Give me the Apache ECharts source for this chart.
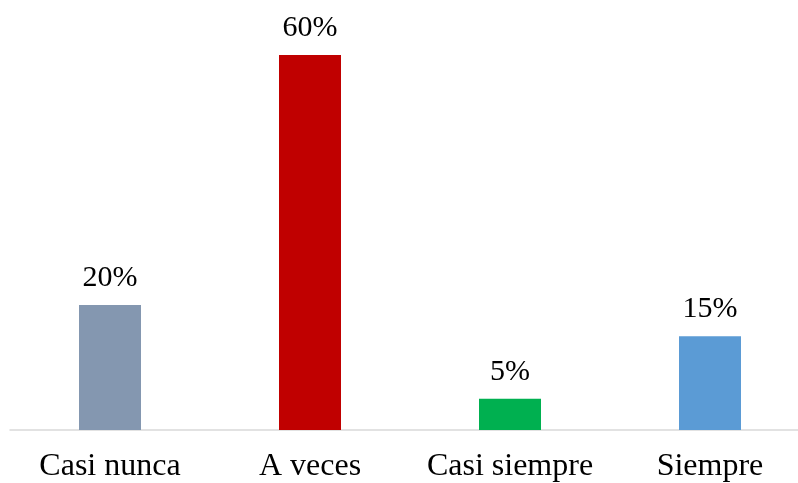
<!DOCTYPE html>
<html>
<head>
<meta charset="utf-8">
<script src="https://cdn.jsdelivr.net/npm/echarts@6/dist/echarts.min.js"></script>
<style>
  html, body { margin: 0; padding: 0; background: #ffffff; overflow: hidden; }
  #chart { width: 812px; height: 483px; }
</style>
</head>
<body>
<div id="chart"></div>
<script>
// Response frequencies (percent)
const categories = ['Casi nunca', 'A veces', 'Casi siempre', 'Siempre'];
const values = [20, 60, 5, 15];
const barColors = ['#8497B0', '#C00000', '#00B050', '#5B9BD5'];

const chart = echarts.init(document.getElementById('chart'), null, { renderer: 'canvas' });

chart.setOption({
  animation: false,
  backgroundColor: '#ffffff',
  grid: { left: 10, right: 2, top: 55, bottom: 51, containLabel: false },
  xAxis: {
    type: 'category',
    data: categories,
    axisLine: { show: true, lineStyle: { color: '#D9D9D9', width: 1.5 } },
    axisTick: { show: false },
    axisLabel: {
      interval: 0,
      color: '#000000',
      fontFamily: 'Liberation Serif',
      fontSize: 32,
      margin: 21
    }
  },
  yAxis: {
    type: 'value',
    min: 0,
    max: 60,
    show: false,
    splitLine: { show: false }
  },
  series: [{
    type: 'bar',
    barWidth: 62,
    data: values.map((v, i) => ({ value: v, itemStyle: { color: barColors[i] } })),
    label: {
      show: true,
      position: 'top',
      distance: 12,
      formatter: p => p.value + '%',
      color: '#000000',
      fontFamily: 'Liberation Serif',
      fontSize: 30
    }
  }]
});
</script>
</body>
</html>
